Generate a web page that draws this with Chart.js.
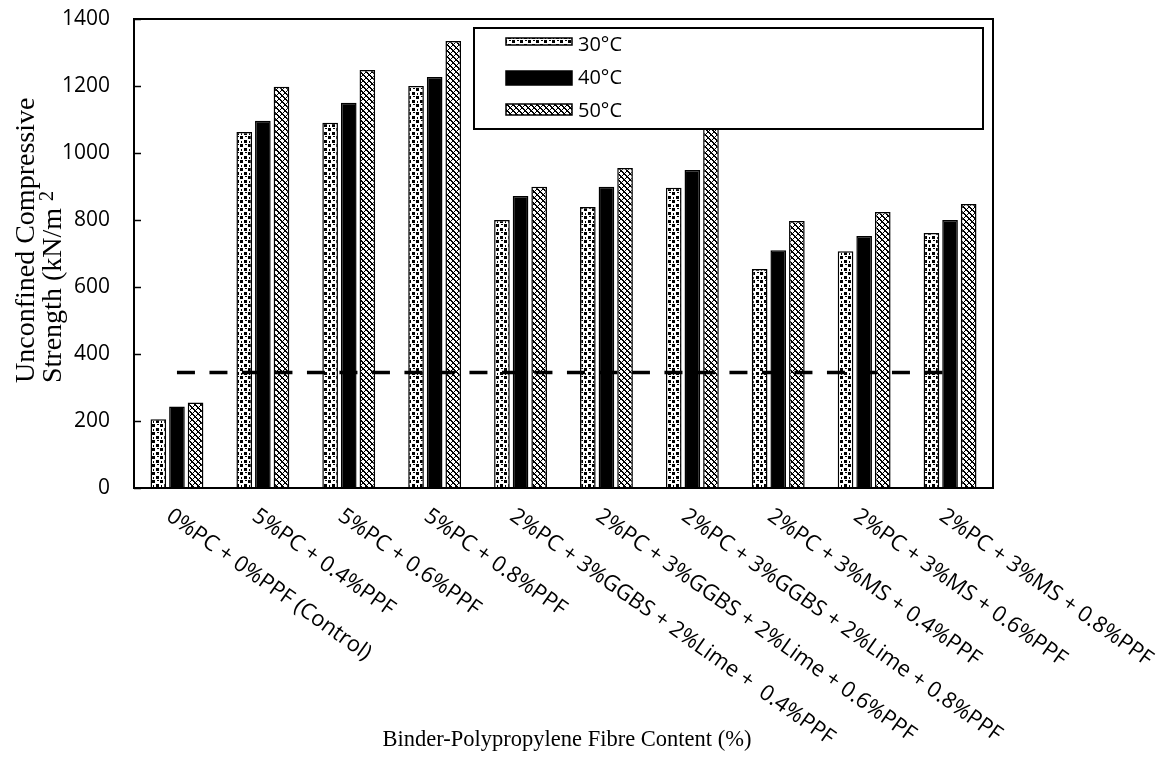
<!DOCTYPE html>
<html><head><meta charset="utf-8">
<script src="https://cdn.jsdelivr.net/npm/chart.js@4.4.0/dist/chart.umd.min.js"></script>
<style>html,body{margin:0;padding:0;background:#fff}#wrap{width:1161px;height:783px}</style>
</head><body><div id="wrap"><canvas id="c" width="1161" height="783"></canvas></div>
<script>
// ---------- data ----------
const categories = [
  '0%PC + 0%PPF (Control)',
  '5%PC + 0.4%PPF',
  '5%PC + 0.6%PPF',
  '5%PC + 0.8%PPF',
  '2%PC + 3%GGBS + 2%Lime +  0.4%PPF',
  '2%PC + 3%GGBS + 2%Lime + 0.6%PPF',
  '2%PC + 3%GGBS + 2%Lime + 0.8%PPF',
  '2%PC + 3%MS + 0.4%PPF',
  '2%PC + 3%MS + 0.6%PPF',
  '2%PC + 3%MS + 0.8%PPF'
];
const seriesNames = ['30°C', '40°C', '50°C'];
const s30 = [205, 1063, 1090, 1200, 800, 839, 896, 654, 707, 761];
const s40 = [243, 1096, 1150, 1227, 872, 899, 949, 710, 752, 800];
const s50 = [255, 1198, 1248, 1334, 899, 955, 1075, 797, 824, 848];
const threshold = [345, 345, 345, 345, 345, 345, 345, 345, 345, 345];
const yMin = 0, yMax = 1400, yStep = 200;
const yTitleLines = ['Unconfined Compressive', 'Strength (kN/m'];
const yTitleSup = '2';
const xTitle = 'Binder-Polypropylene Fibre Content (%)';

// ---------- patterns ----------
function makePattern(w, h, cells) {
  const c = document.createElement('canvas');
  c.width = w; c.height = h;
  const g = c.getContext('2d');
  g.fillStyle = '#fff'; g.fillRect(0, 0, w, h);
  g.fillStyle = '#000';
  cells.forEach(([x, y, cw, ch]) => g.fillRect(x, y, cw || 1, ch || 1));
  return document.getElementById('c').getContext('2d').createPattern(c, 'repeat');
}
const pat30 = makePattern(8, 8, [[0,0,3,3],[4,4,3,3],[5,0,2,1],[1,5,1,2]]);
const cells50 = [];
for (let i = 0; i < 6; i++) {
  cells50.push([i, i]); cells50.push([(i + 1) % 6, i]); cells50.push([5 - i, i]);
}
const pat50 = makePattern(6, 6, cells50);
const fills = [pat30, '#000', pat50];

const FONT_SANS = '"Open Sans", "Noto Sans", sans-serif';
const FONT_SERIF = '"Liberation Serif", "DejaVu Serif", serif';

// ---------- decoration plugin ----------
const deco = {
  id: 'deco',
  afterDatasetsDraw(chart) {
    const ctx = chart.ctx, a = chart.chartArea, y = chart.scales.y;
    ctx.save();
    ctx.strokeStyle = '#000'; ctx.lineWidth = 2;
    ctx.strokeRect(a.left, a.top, a.right - a.left, a.bottom - a.top);
    ctx.lineWidth = 1.5;
    ctx.font = '21px ' + FONT_SANS; ctx.textAlign = 'right'; ctx.textBaseline = 'middle';
    ctx.fillStyle = '#000';
    y.ticks.forEach(t => {
      const py = Math.round(y.getPixelForValue(t.value)) + 0.5;
      ctx.beginPath(); ctx.moveTo(a.left, py); ctx.lineTo(a.left + 7, py); ctx.stroke();
      ctx.fillText(String(t.value), a.left - 24, py);
    });
    // legend box (drawn over bars)
    const lx = 474, ly = 28, lw = 509, lh = 101;
    ctx.fillStyle = '#fff'; ctx.fillRect(lx, ly, lw, lh);
    ctx.lineWidth = 2; ctx.strokeStyle = '#000'; ctx.strokeRect(lx, ly, lw, lh);
    const sw = [[38, 7], [71, 14], [104, 11]];
    const ty = [45, 78, 111];
    ctx.font = '20px ' + FONT_SANS; ctx.textBaseline = 'middle'; ctx.textAlign = 'left';
    seriesNames.forEach((n, i) => {
      ctx.fillStyle = fills[i];
      ctx.fillRect(506, sw[i][0], 66, sw[i][1]);
      ctx.lineWidth = 1.5; ctx.strokeStyle = '#000';
      ctx.strokeRect(506, sw[i][0], 66, sw[i][1]);
      ctx.fillStyle = '#000';
      ctx.fillText(n, 578, ty[i]);
    });
    ctx.restore();
  },
  afterDraw(chart) {
    const ctx = chart.ctx, x = chart.scales.x, a = chart.chartArea;
    ctx.save();
    ctx.fillStyle = '#000';
    ctx.font = '22px ' + FONT_SANS;
    ctx.textAlign = 'left'; ctx.textBaseline = 'top';
    const ang = 35.3 * Math.PI / 180;
    categories.forEach((lab, i) => {
      const cx = x.getPixelForValue(i);
      ctx.save();
      ctx.translate(cx - 2, a.bottom + 17);
      ctx.rotate(ang);
      ctx.fillText(lab, 0, 0);
      ctx.restore();
    });
    // y title
    ctx.font = '28px ' + FONT_SERIF;
    ctx.textBaseline = 'alphabetic';
    ctx.save();
    ctx.translate(34, 383); ctx.rotate(-Math.PI / 2);
    ctx.fillText(yTitleLines[0], 0, 0);
    ctx.restore();
    ctx.save();
    ctx.translate(61, 383); ctx.rotate(-Math.PI / 2);
    ctx.fillText(yTitleLines[1], 0, 0);
    const w = ctx.measureText(yTitleLines[1]).width;
    ctx.font = '20px ' + FONT_SERIF;
    ctx.fillText(yTitleSup, w + 7, -8);
    ctx.restore();
    // x title
    ctx.font = '22.5px ' + FONT_SERIF;
    ctx.textAlign = 'center';
    ctx.fillText(xTitle, 567, 746);
    ctx.restore();
  }
};

new Chart(document.getElementById('c'), {
  data: {
    labels: categories,
    datasets: [
      { type: 'line', label: 'limit', data: threshold, borderColor: '#000', borderWidth: 3.5,
        borderDash: [18, 14.5], pointRadius: 0, fill: false, order: 0 },
      { type: 'bar', label: seriesNames[0], data: s30, backgroundColor: fills[0], borderColor: '#000', borderWidth: 1.5, order: 1 },
      { type: 'bar', label: seriesNames[1], data: s40, backgroundColor: fills[1], borderColor: '#000', borderWidth: 1.5, order: 1 },
      { type: 'bar', label: seriesNames[2], data: s50, backgroundColor: fills[2], borderColor: '#000', borderWidth: 1.5, order: 1 }
    ]
  },
  options: {
    responsive: false, animation: false, devicePixelRatio: 1,
    categoryPercentage: 0.65, barPercentage: 0.84,
    layout: { padding: { left: 0, right: 168, top: 19, bottom: 0 } },
    plugins: { legend: { display: false }, tooltip: { enabled: false }, title: { display: false } },
    scales: {
      x: {
        offset: true,
        grid: { display: false, drawTicks: false },
        border: { display: false },
        ticks: { display: false },
        afterFit(s) { s.height = 295; }
      },
      y: {
        min: yMin, max: yMax,
        grid: { display: false, drawTicks: false },
        border: { display: true, color: '#000', width: 2 },
        ticks: { stepSize: yStep, display: false },
        afterFit(s) { s.width = 134; }
      }
    }
  },
  plugins: [deco]
});
</script>
</body></html>
